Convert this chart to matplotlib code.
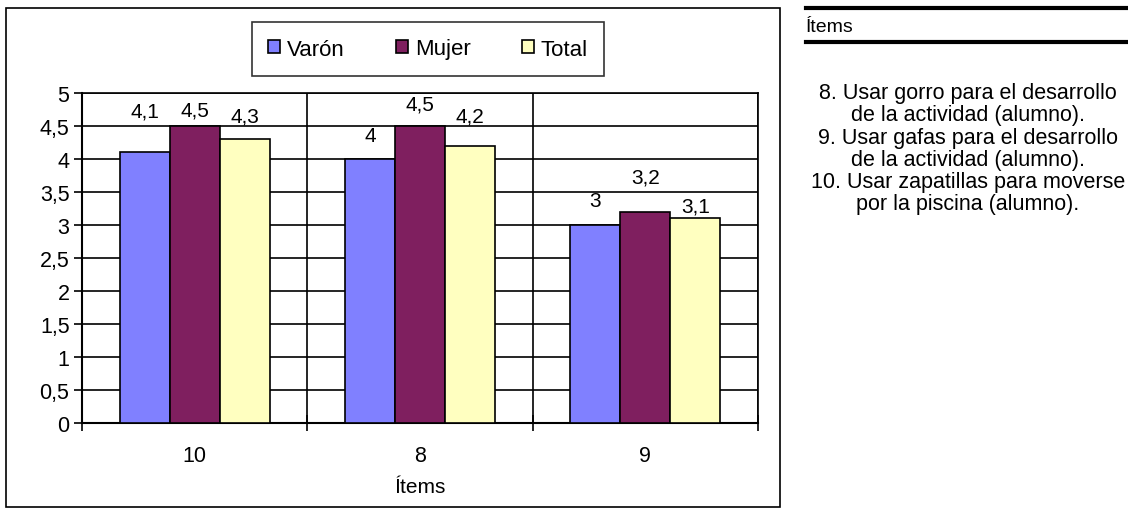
import matplotlib
matplotlib.use("Agg")
import matplotlib.pyplot as plt
from matplotlib.patches import Rectangle
from matplotlib.lines import Line2D
import numpy as np

categories = ["10", "8", "9"]
series_names = ["Varón", "Mujer", "Total"]
varon = [4.1, 4.0, 3.0]
mujer = [4.5, 4.5, 3.2]
total = [4.3, 4.2, 3.1]
value_labels_varon = ["4,1", "4", "3"]
value_labels_mujer = ["4,5", "4,5", "3,2"]
value_labels_total = ["4,3", "4,2", "3,1"]
y_ticks = [0, 0.5, 1, 1.5, 2, 2.5, 3, 3.5, 4, 4.5, 5]
y_tick_labels = ["0", "0,5", "1", "1,5", "2", "2,5", "3", "3,5", "4", "4,5", "5"]
x_title = "Ítems"
side_title = "Ítems"
side_items = [
    "8. Usar gorro para el desarrollo\nde la actividad (alumno).",
    "9. Usar gafas para el desarrollo\nde la actividad (alumno).",
    "10. Usar zapatillas para moverse\npor la piscina (alumno).",
]

# presentation
colors = ["#8080FF", "#7F1F5F", "#FFFFC0"]
label_nudge_px = [[41, 23, 24], [16, 22, 35], [23, 30, 12]]

font = "Liberation Sans"
plt.rcParams["font.family"] = [font, "DejaVu Sans"]

W, H = 1128, 510
fig = plt.figure(figsize=(W / 100, H / 100), dpi=100)

def fx(px):
    return px / W

def fy(py):
    return 1 - py / H

# outer chart box
fig.patches.append(Rectangle((fx(6), fy(508)), fx(780) - fx(6), fy(9) - fy(508),
                             transform=fig.transFigure, fill=False, edgecolor="black",
                             linewidth=1.2, zorder=0))

ax = fig.add_axes([fx(82), fy(424), fx(758) - fx(82), fy(94) - fy(424)])
x = np.arange(len(categories))
bw = 1 / 4.5
data = [varon, mujer, total]
labels = [value_labels_varon, value_labels_mujer, value_labels_total]
for i, (vals, c, name) in enumerate(zip(data, colors, series_names)):
    pos = x + (i - 1) * bw
    bars = ax.bar(pos, vals, width=bw, color=c, edgecolor="black", linewidth=1.2,
                  label=name, zorder=3)
    for j, b in enumerate(bars):
        ax.annotate(labels[i][j], (b.get_x() + b.get_width() / 2, b.get_height()),
                    xytext=(0, label_nudge_px[i][j]), textcoords="offset pixels",
                    ha="center", va="center", fontsize=15, zorder=4)

ax.set_xlim(-0.5, len(categories) - 0.5)
ax.set_ylim(0, 5)
ax.set_yticks(y_ticks)
ax.set_yticklabels(y_tick_labels, fontsize=15.5)
ax.set_xticks(x)
ax.set_xticklabels(categories, fontsize=15.5)
ax.tick_params(axis="x", length=0, pad=16)
ax.set_xticks(np.arange(-0.5, len(categories)), minor=True)
ax.tick_params(axis="x", which="minor", direction="inout", length=12, width=1.2)
ax.tick_params(axis="y", direction="out", length=6, width=1.2, pad=3)
ax.grid(axis="y", color="black", linewidth=1.2, zorder=1)
ax.grid(axis="x", which="minor", color="black", linewidth=1.2, zorder=1)
for s in ["left", "bottom"]:
    ax.spines[s].set_linewidth(1.5)
for s in ["top", "right"]:
    ax.spines[s].set_linewidth(1.2)
ax.set_axisbelow(True)
ax.set_xlabel(x_title, fontsize=15, labelpad=8)

leg = fig.legend(loc="center", bbox_to_anchor=(fx(428), fy(50)), ncol=3, fontsize=16,
                 frameon=True, fancybox=False, edgecolor="black", handlelength=0.55,
                 handleheight=0.55, handletextpad=0.3, columnspacing=2.3,
                 borderpad=0.75, borderaxespad=0)
leg.get_frame().set_linewidth(1.2)
leg.set_zorder(5)

# side panel
fig.add_artist(Line2D([fx(806), 1], [fy(9), fy(9)], color="black", linewidth=3,
                      transform=fig.transFigure))
fig.add_artist(Line2D([fx(806), 1], [fy(43), fy(43)], color="black", linewidth=3,
                      transform=fig.transFigure))
fig.text(fx(806), fy(27), side_title, fontsize=14, ha="left", va="center")
fig.text(fx(968), fy(83), "\n".join(side_items), fontsize=15.5, ha="center", va="top",
         linespacing=1.08, multialignment="center")

fig.savefig("out.png", dpi=100)
